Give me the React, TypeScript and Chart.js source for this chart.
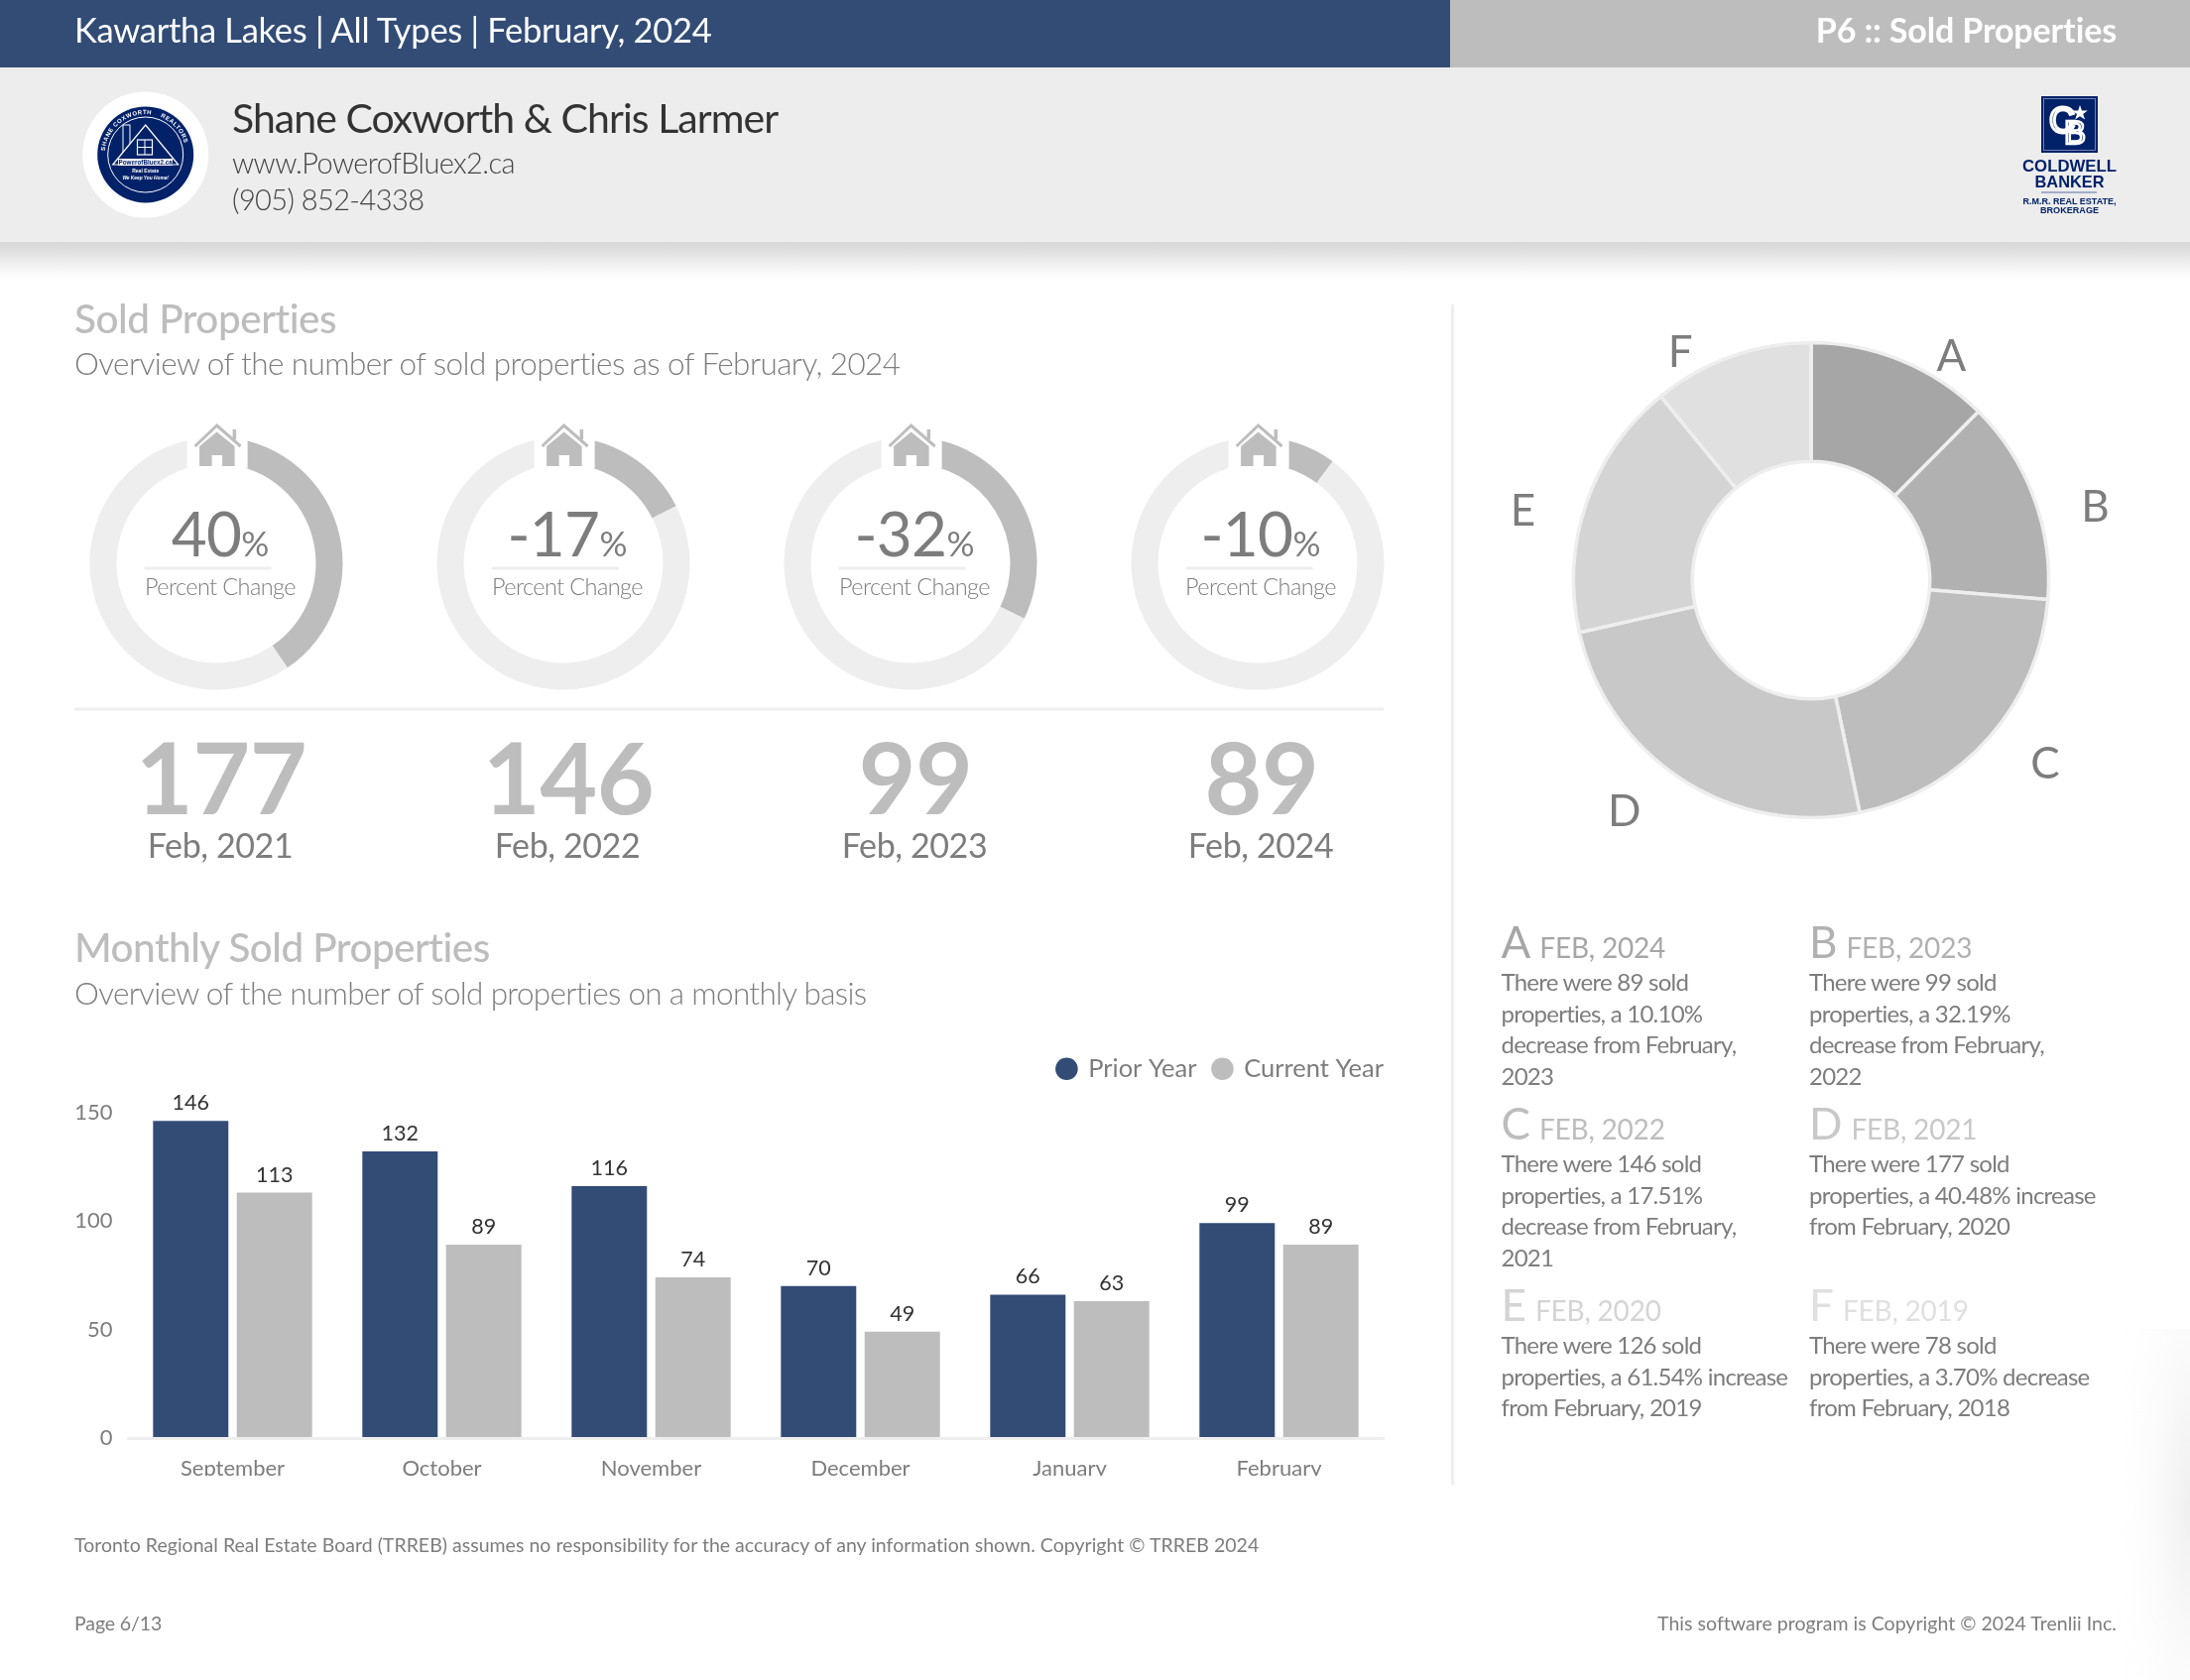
import React, { useEffect, useRef } from "react";
import { Chart, registerables } from "chart.js";

Chart.register(...registerables);

const months = ["September", "October", "November", "December", "January", "February"];
const priorYear = [146, 132, 116, 70, 66, 99];
const currentYear = [113, 89, 74, 49, 63, 89];
const yTicks = [0, 50, 100, 150];

const percentChanges = [40.48, -17.51, -32.19, -10.1];
const percentLabels = ["40", "-17", "-32", "-10"];
const soldCounts = ["177", "146", "99", "89"];
const soldPeriods = ["Feb, 2021", "Feb, 2022", "Feb, 2023", "Feb, 2024"];

const pieLetters = ["A", "B", "C", "D", "E", "F"];
const pieValues = [89, 99, 146, 177, 126, 78];
const pieColors = ["#a6a6a6", "#b1b1b1", "#bdbdbd", "#c8c8c8", "#d4d4d4", "#e0e0e0"];
const pieLabelNudges = [[27, 52], [5, 31], [11, -13], [-26, -19], [-7, 29], [-31, 53]];
const piePeriods = ["FEB, 2024", "FEB, 2023", "FEB, 2022", "FEB, 2021", "FEB, 2020", "FEB, 2019"];
const pieNotes = [
  ["There were 89 sold", "properties, a 10.10%", "decrease from February,", "2023"],
  ["There were 99 sold", "properties, a 32.19%", "decrease from February,", "2022"],
  ["There were 146 sold", "properties, a 17.51%", "decrease from February,", "2021"],
  ["There were 177 sold", "properties, a 40.48% increase", "from February, 2020"],
  ["There were 126 sold", "properties, a 61.54% increase", "from February, 2019"],
  ["There were 78 sold", "properties, a 3.70% decrease", "from February, 2018"],
];

const BLUE = "#324c76";
const GRAY = "#bdbdbd";
const PALE = "#eeeeee";
const TEXT = "#7d7d7d";
const NAVY = "#012169";
const FONT = "Lato";

function RingChart({ value, left }: { value: number; left: number }) {
  const ref = useRef<HTMLCanvasElement>(null);
  useEffect(() => {
    const magnitude = Math.abs(value);
    const chart = new Chart(ref.current!, {
      type: "doughnut",
      data: {
        labels: ["Change", "Rest"],
        datasets: [{ data: [magnitude, 100 - magnitude], backgroundColor: [GRAY, PALE], borderWidth: 0 }],
      },
      options: {
        animation: false,
        responsive: false,
        devicePixelRatio: 1,
        radius: 127.5,
        cutout: "78.8%",
        plugins: { legend: { display: false }, tooltip: { enabled: false } },
      } as any,
    });
    return () => chart.destroy();
  }, [value]);
  return <canvas ref={ref} width={270} height={270} style={{ position: "absolute", left, top: 433 }} />;
}

function PieChart() {
  const ref = useRef<HTMLCanvasElement>(null);
  useEffect(() => {
    const letters = {
      id: "sliceLetters",
      afterDatasetsDraw(chart: any) {
        const { ctx } = chart;
        ctx.save();
        ctx.font = `400 44px ${FONT}`;
        ctx.fillStyle = TEXT;
        ctx.textAlign = "center";
        ctx.textBaseline = "middle";
        chart.getDatasetMeta(0).data.forEach((arc: any, i: number) => {
          const mid = (arc.startAngle + arc.endAngle) / 2;
          const [nx, ny] = pieLabelNudges[i];
          ctx.fillText(pieLetters[i], arc.x + Math.cos(mid) * 300 + nx, arc.y + Math.sin(mid) * 300 + ny);
        });
        ctx.restore();
      },
    };
    const chart = new Chart(ref.current!, {
      type: "doughnut",
      data: {
        labels: pieLetters,
        datasets: [{ data: pieValues, backgroundColor: pieColors, borderColor: PALE, borderWidth: 3.5 }],
      },
      options: {
        animation: false,
        responsive: false,
        devicePixelRatio: 1,
        radius: 239.5,
        cutout: "50%",
        plugins: { legend: { display: false }, tooltip: { enabled: false } },
      } as any,
      plugins: [letters],
    });
    return () => chart.destroy();
  }, []);
  return <canvas ref={ref} width={680} height={680} style={{ position: "absolute", left: 1486, top: 245 }} />;
}

function BarChart() {
  const ref = useRef<HTMLCanvasElement>(null);
  useEffect(() => {
    const valueLabels = {
      id: "valueLabels",
      afterDatasetsDraw(chart: any) {
        const { ctx } = chart;
        ctx.save();
        ctx.font = `400 21.5px ${FONT}`;
        ctx.fillStyle = "#333333";
        ctx.textAlign = "center";
        ctx.textBaseline = "alphabetic";
        chart.data.datasets.forEach((ds: any, d: number) => {
          chart.getDatasetMeta(d).data.forEach((bar: any, i: number) => {
            ctx.fillText(String(ds.data[i]), bar.x, bar.y - 11);
          });
        });
        ctx.restore();
      },
    };
    const hiddenAxis = {
      display: true,
      grid: { display: false, drawTicks: false },
      border: { display: false },
      ticks: { display: false },
    };
    const chart = new Chart(ref.current!, {
      type: "bar",
      data: {
        labels: months,
        datasets: [
          { label: "Prior Year", data: priorYear, backgroundColor: BLUE },
          { label: "Current Year", data: currentYear, backgroundColor: GRAY },
        ],
      },
      options: {
        animation: false,
        responsive: false,
        devicePixelRatio: 1,
        layout: { autoPadding: false, padding: 0 },
        plugins: {
          tooltip: { enabled: false },
          legend: {
            position: "top",
            align: "end",
            labels: {
              usePointStyle: true,
              pointStyle: "circle",
              boxWidth: 18,
              boxHeight: 16,
              padding: 17,
              color: TEXT,
              font: { family: FONT, size: 25.5, weight: "400" },
            },
          },
        },
        scales: {
          x: {
            afterFit: (s: any) => { s.height = 61; },
            grid: { display: false, drawTicks: false },
            border: { color: PALE, width: 3, z: 1 },
            ticks: { color: TEXT, padding: 18, font: { family: FONT, size: 22 } },
          },
          y: {
            min: yTicks[0],
            max: yTicks[yTicks.length - 1],
            afterFit: (s: any) => { s.width = 59; },
            grid: { display: false, drawTicks: false },
            border: { display: false },
            ticks: { stepSize: 50, color: TEXT, padding: 15.5, font: { family: FONT, size: 22 } },
          },
          topSpacer: { ...hiddenAxis, type: "linear", axis: "x", position: "top", afterFit: (s: any) => { s.height = 21; } },
          rightSpacer: { ...hiddenAxis, type: "linear", axis: "y", position: "right", afterFit: (s: any) => { s.width = 17; } },
        },
      } as any,
      plugins: [valueLabels],
    });
    return () => chart.destroy();
  }, []);
  return (
    <div style={{ position: "absolute", left: 70, top: 1048, width: 1342, height: 440, overflow: "hidden" }}>
      <canvas ref={ref} width={1342} height={463} style={{ display: "block" }} />
    </div>
  );
}

function House({ cx }: { cx: number }) {
  return (
    <g>
      <rect x={cx - 30} y={425} width={61} height={47} fill="#ffffff" />
      <path d={`M${cx - 22} 450 L${cx} 429 L${cx + 24} 450`} fill="none" stroke={GRAY} strokeWidth={3} />
      <rect x={cx + 16} y={433} width={3.5} height={10} fill={GRAY} />
      <path
        d={`M${cx} 435.5 L${cx + 18} 450 V470 H${cx + 5.5} V459 H${cx - 5} V470 H${cx - 17.5} V450 Z`}
        fill={GRAY}
      />
    </g>
  );
}

function AgentLogo() {
  const cx = 146.7;
  const cy = 156;
  return (
    <g>
      <circle cx={cx} cy={cy} r={63.5} fill="#ffffff" />
      <circle cx={cx} cy={cy} r={48.5} fill={NAVY} />
      <circle cx={cx} cy={cy} r={38} fill="none" stroke="#ffffff" strokeWidth={1} />
      <defs>
        <path id="logoRing" d={`M${cx - 41} ${cy} A41 41 0 1 1 ${cx + 41} ${cy}`} />
      </defs>
      <text fontFamily="Liberation Sans" fontSize={6} fontWeight={700} fill="#ffffff" letterSpacing={0.6}>
        <textPath href="#logoRing" startOffset="3%">SHANE COXWORTH</textPath>
      </text>
      <text fontFamily="Liberation Sans" fontSize={6} fontWeight={700} fill="#ffffff" letterSpacing={0.6}>
        <textPath href="#logoRing" startOffset="62%">REALTORS</textPath>
      </text>
      <rect x={124} y={126} width={7} height={28} fill={NAVY} stroke="#ffffff" strokeWidth={1} />
      <path d={`M${cx} 126 L${cx + 33} 166 H${cx - 33} Z`} fill={NAVY} stroke="#ffffff" strokeWidth={1.2} />
      <rect x={138.5} y={141} width={15} height={15} fill="none" stroke="#ffffff" strokeWidth={1.2} />
      <path d="M146 141 V156 M138.5 148.5 H153.5" stroke="#ffffff" strokeWidth={1} />
      <rect x={119} y={160} width={55} height={7} fill="#ffffff" />
      <text x={cx} y={166} textAnchor="middle" fontFamily="Liberation Sans" fontWeight={700} fontSize={6.3} fill={NAVY}>PowerofBluex2.ca</text>
      <text x={cx} y={174} textAnchor="middle" fontFamily="Liberation Sans" fontWeight={700} fontSize={5} fill="#ffffff">Real Estate</text>
      <text x={cx} y={180.5} textAnchor="middle" fontFamily="Liberation Sans" fontStyle="italic" fontWeight={700} fontSize={4.8} fill="#ffffff">We Keep You Home!</text>
    </g>
  );
}

function BrokerLogo() {
  const font = "Liberation Sans";
  return (
    <g fill={NAVY} fontFamily={font} fontWeight={700} textAnchor="middle">
      <rect x={2058} y={97} width={57} height={57} fill={NAVY} />
      <rect x={2060.5} y={99.5} width={52} height={52} fill="none" stroke="#8d9bc0" strokeWidth={0.8} />
      <text x={2079} y={134} fontSize={36} fill="none" stroke="#ffffff" strokeWidth={3} fontFamily="Liberation Sans" fontWeight={400}>C</text>
      <text x={2092} y={145} fontSize={33} fill="none" stroke="#ffffff" strokeWidth={2.5} fontFamily="Liberation Sans" fontWeight={400}>B</text>
      <path d="M2097 106 l2 5.5 h5.8 l-4.6 3.5 1.8 5.6 -5 -3.4 -4.8 3.4 1.8 -5.6 -4.6 -3.5 h5.8 Z" fill="#ffffff" />
      <text x={2086.5} y={172.5} fontSize={17} textLength={95} lengthAdjust="spacingAndGlyphs">COLDWELL</text>
      <text x={2086.5} y={189} fontSize={17} textLength={70} lengthAdjust="spacingAndGlyphs">BANKER</text>
      <rect x={2058} y={193.5} width={56} height={1} fill="#5c6fa3" />
      <text x={2086.5} y={206} fontSize={9} textLength={94} lengthAdjust="spacingAndGlyphs">R.M.R. REAL ESTATE,</text>
      <text x={2086.5} y={214.5} fontSize={9} textLength={59} lengthAdjust="spacingAndGlyphs">BROKERAGE</text>
    </g>
  );
}

export default function App() {
  const columnText = [222, 572, 922, 1271];
  const ringLeft = [82.6, 432.6, 782.6, 1132.6];
  const ringCenter = [217.6, 567.6, 917.6, 1267.6];
  const noteX = [1513.5, 1824];
  return (
    <div style={{ position: "absolute", left: 0, top: 0, width: 2208, height: 1694, overflow: "hidden", background: "#fff" }}>
      {percentChanges.map((v, i) => (
        <RingChart key={i} value={v} left={ringLeft[i]} />
      ))}
      <PieChart />
      <BarChart />
      <svg
        width={2208}
        height={1694}
        style={{ position: "absolute", left: 0, top: 0, pointerEvents: "none" }}
        fontFamily={FONT}
      >
        <defs>
          <linearGradient id="dropShadow" x1="0" y1="0" x2="0" y2="1">
            <stop offset="0" stopColor="#d6d6d6" />
            <stop offset="1" stopColor="#ffffff" />
          </linearGradient>
          <radialGradient id="cornerGlow" cx="1" cy="0.5" r="1" gradientUnits="objectBoundingBox">
            <stop offset="0" stopColor="#efefef" />
            <stop offset="1" stopColor="#ffffff" stopOpacity={0} />
          </radialGradient>
        </defs>
        <rect x={2130} y={1340} width={78} height={354} fill="url(#cornerGlow)" />
        <rect x={0} y={0} width={1462} height={68} fill={BLUE} />
        <rect x={1462} y={0} width={746} height={68} fill={GRAY} />
        <rect x={0} y={68} width={2208} height={176} fill="#ededed" />
        <rect x={0} y={244} width={2208} height={36} fill="url(#dropShadow)" />
        <text x={75} y={43} fontSize={34.5} letterSpacing={-0.3} fill="#ffffff">Kawartha Lakes | All Types | February, 2024</text>
        <text x={2134} y={43} fontSize={34} letterSpacing={-0.13} fontWeight={700} fill="#ffffff" textAnchor="end">P6 :: Sold Properties</text>
        <AgentLogo />
        <text x={234} y={134} fontSize={41} letterSpacing={-0.95} fill="#333333">Shane Coxworth &amp; Chris Larmer</text>
        <text x={234} y={175} fontSize={29} letterSpacing={-0.6} fontWeight={300} fill="#444444">www.PowerofBluex2.ca</text>
        <text x={234} y={212} fontSize={29} letterSpacing={-0.6} fontWeight={300} fill="#444444">(905) 852-4338</text>
        <BrokerLogo />

        <text x={75} y={336} fontSize={40.5} letterSpacing={-0.5} fontWeight={500} fill={GRAY}>Sold Properties</text>
        <text x={75} y={378} fontSize={31.5} letterSpacing={-0.58} fontWeight={300} fill={TEXT}>Overview of the number of sold properties as of February, 2024</text>

        {percentChanges.map((_, i) => (
          <g key={i}>
            <House cx={ringCenter[i] + 1} />
            <text x={columnText[i]} y={561} textAnchor="middle" fill={TEXT} fontWeight={400}>
              <tspan fontSize={62} letterSpacing={-0.7}>{percentLabels[i]}</tspan>
              <tspan fontSize={35} fontWeight={400}>%</tspan>
            </text>
            <rect x={ringCenter[i] - 72} y={571.5} width={128} height={3} fill={PALE} />
            <text x={columnText[i]} y={600} textAnchor="middle" fontSize={23.5} letterSpacing={-0.6} fontWeight={300} fill={TEXT}>Percent Change</text>
            <text x={columnText[i] + 1} y={821} textAnchor="middle" fontSize={100} letterSpacing={-0.5} fontWeight={700} fill={GRAY}>{soldCounts[i]}</text>
            <text x={columnText[i]} y={865} textAnchor="middle" fontSize={34} letterSpacing={-0.4} fill={TEXT}>{soldPeriods[i]}</text>
          </g>
        ))}
        <rect x={75} y={713.5} width={1320} height={3} fill={PALE} />

        <text x={75} y={970} fontSize={40.5} letterSpacing={-0.55} fontWeight={500} fill={GRAY}>Monthly Sold Properties</text>
        <text x={75} y={1012.5} fontSize={31.5} letterSpacing={-0.68} fontWeight={300} fill={TEXT}>Overview of the number of sold properties on a monthly basis</text>

        <rect x={1463} y={307} width={3} height={1190} fill={PALE} />

        {pieLetters.map((letter, i) => {
          const col = i % 2;
          const row = Math.floor(i / 2);
          const baseline = 966 + row * 183;
          return (
            <g key={letter}>
              <text x={noteX[col]} y={baseline} fill={pieColors[i]}>
                <tspan fontSize={44}>{letter}</tspan>
                <tspan dx={9} fontSize={28} letterSpacing={-0.2}>{piePeriods[i]}</tspan>
              </text>
              {pieNotes[i].map((line, j) => (
                <text key={j} x={noteX[col]} y={baseline + 33 + j * 31.7} fontSize={24} letterSpacing={-0.75} fill={TEXT}>{line}</text>
              ))}
            </g>
          );
        })}

        <text x={75} y={1565} fontSize={19.5} letterSpacing={0.02} fill={TEXT}>Toronto Regional Real Estate Board (TRREB) assumes no responsibility for the accuracy of any information shown. Copyright © TRREB 2024</text>
        <text x={75} y={1644} fontSize={19.5} letterSpacing={-0.1} fill={TEXT}>Page 6/13</text>
        <text x={2134} y={1644} fontSize={19.5} letterSpacing={0.03} fill={TEXT} textAnchor="end">This software program is Copyright © 2024 Trenlii Inc.</text>
      </svg>
    </div>
  );
}
